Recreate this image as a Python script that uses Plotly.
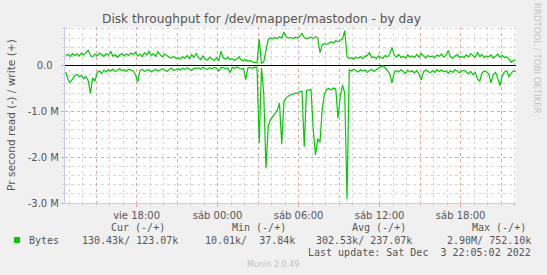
import pandas as pd
import plotly.graph_objects as go

# ---- data (MB/s), sampled every 10 minutes from Fri 2022-12-02 12:45 ----
start_time = "2022-12-02 12:45"
write_m = [
    0.22, 0.24, 0.20, 0.26, 0.22, 0.25, 0.21, 0.27, 0.23, 0.28,
    0.33, 0.22, 0.19, 0.25, 0.21, 0.27, 0.23, 0.20, 0.26, 0.22,
    0.31, 0.20, 0.24, 0.18, 0.23, 0.26, 0.21, 0.25, 0.22, 0.27,
    0.24, 0.29, 0.21, 0.25, 0.19, 0.28, 0.23, 0.31, 0.22, 0.26,
    0.20, 0.30, 0.23, 0.19, 0.25, 0.21, 0.18, 0.16, 0.20, 0.15,
    0.17, 0.14, 0.19, 0.16, 0.22, 0.15, 0.24, 0.18, 0.26, 0.17,
    0.13, 0.21, 0.14, 0.12, 0.18, 0.15, 0.11, 0.17, 0.10, 0.31,
    0.16, 0.14, 0.18, 0.13, 0.15, 0.11, 0.14, 0.19, 0.12, 0.10,
    0.13, 0.09, 0.11, 0.08, 0.07, 0.06, 0.57, 0.05, 0.08, 0.35,
    0.57, 0.60, 0.58, 0.61, 0.59, 0.63, 0.60, 0.73, 0.62, 0.60,
    0.61, 0.59, 0.62, 0.60, 0.63, 0.70, 0.61, 0.58, 0.60, 0.62,
    0.59, 0.63, 0.60, 0.28, 0.45, 0.48, 0.46, 0.50, 0.52, 0.49,
    0.54, 0.52, 0.56, 0.58, 0.76, 0.20, 0.15, 0.17, 0.14, 0.18,
    0.16, 0.19, 0.15, 0.20, 0.22, 0.28, 0.17, 0.19, 0.15, 0.21,
    0.18, 0.16, 0.22, 0.19, 0.25, 0.39, 0.22, 0.18, 0.24, 0.17,
    0.20, 0.16, 0.23, 0.19, 0.21, 0.17, 0.24, 0.18, 0.26, 0.20,
    0.16, 0.22, 0.19, 0.21, 0.17, 0.23, 0.20, 0.25, 0.18, 0.22,
    0.33, 0.19, 0.16, 0.21, 0.24, 0.18, 0.20, 0.17, 0.23, 0.19,
    0.26, 0.21, 0.18, 0.29, 0.20, 0.24, 0.17, 0.21, 0.19, 0.23,
    0.16, 0.20, 0.25, 0.18, 0.22, 0.17, 0.19, 0.14, 0.07, 0.11,
    0.12,
]
read_m = [
    0.14, 0.30, 0.37, 0.28, 0.22, 0.19, 0.25, 0.21, 0.29, 0.24,
    0.33, 0.61, 0.27, 0.34, 0.15, 0.12, 0.17, 0.10, 0.14, 0.09,
    0.12, 0.08, 0.13, 0.10, 0.07, 0.11, 0.09, 0.13, 0.08, 0.10,
    0.12, 0.20, 0.36, 0.11, 0.08, 0.13, 0.10, 0.09, 0.14, 0.11,
    0.08, 0.12, 0.09, 0.07, 0.10, 0.13, 0.08, 0.06, 0.11, 0.09,
    0.07, 0.10, 0.06, 0.09, 0.05, 0.08, 0.11, 0.06, 0.07, 0.05,
    0.08, 0.04, 0.06, 0.09, 0.05, 0.07, 0.04, 0.06, 0.12, 0.05,
    0.04, 0.07, 0.05, 0.16, 0.04, 0.06, 0.03, 0.05, 0.08, 0.06,
    0.31, 0.05, 0.04, 0.06, 0.03, 0.04, 1.69, 0.05, 0.60, 2.24,
    1.33, 1.18, 1.10, 1.05, 0.98, 0.82, 1.72, 0.78, 0.70, 0.66,
    0.64, 0.62, 0.60, 0.61, 0.57, 0.56, 1.77, 0.55, 0.53, 0.52,
    1.40, 1.95, 1.60, 1.68, 0.95, 0.62, 0.52, 0.50, 0.53, 0.49,
    0.51, 1.15, 0.68, 0.43, 0.60, 2.92, 0.09, 0.12, 0.08, 0.11,
    0.14, 0.09, 0.12, 0.10, 0.15, 0.11, 0.08, 0.13, 0.10, 0.06,
    0.02, 0.01, 0.05, 0.12, 0.18, 0.38, 0.15, 0.11, 0.14, 0.09,
    0.13, 0.17, 0.10, 0.14, 0.12, 0.16, 0.11, 0.19, 0.31, 0.14,
    0.10, 0.13, 0.16, 0.11, 0.15, 0.09, 0.13, 0.10, 0.14, 0.12,
    0.17, 0.11, 0.15, 0.09, 0.13, 0.16, 0.12, 0.10, 0.14, 0.18,
    0.13, 0.20, 0.15, 0.30, 0.34, 0.16, 0.12, 0.14, 0.18, 0.38,
    0.20, 0.15, 0.28, 0.44, 0.22, 0.14, 0.11, 0.25, 0.16, 0.12,
    0.13,
]

x_labels_vals = ["2022-12-02 18:00", "2022-12-03 00:00", "2022-12-03 06:00",
                 "2022-12-03 12:00", "2022-12-03 18:00"]
x_labels_text = ["vie 18:00", "sáb 00:00", "sáb 06:00", "sáb 12:00", "sáb 18:00"]
y_tick_vals = [0, -1e6, -2e6, -3e6]
y_tick_text = ["0.0\u00a0\u00a0", "-1.0 M", "-2.0 M", "-3.0 M"]

legend_name = "Bytes"
stat_headers = ["Cur (-/+)", "Min (-/+)", "Avg (-/+)", "Max (-/+)"]
stat_values = ["130.43k/ 123.07k", "10.01k/  37.84k", "302.53k/ 237.07k", "2.90M/ 752.10k"]
last_update = "Last update: Sat Dec  3 22:05:02 2022"

# ---- layout geometry ----
W, H = 547, 275
L, R, T, B = 65, 31, 27, 72
PW, PH = W - L - R, H - T - B
def px(x):
    return (x - L) / PW
def py(y):
    return 1 - (y - T) / PH

times = pd.date_range(start_time, periods=len(write_m), freq="10min")
green = "#00CC00"
txt = "#555555"

fig = go.Figure()
fig.add_trace(go.Scatter(x=times, y=[-v * 1e6 for v in read_m], mode="lines",
                         line=dict(color=green, width=1.2), showlegend=False, hoverinfo="skip"))
fig.add_trace(go.Scatter(x=times, y=[v * 1e6 for v in write_m], mode="lines",
                         line=dict(color=green, width=1.2), showlegend=False, hoverinfo="skip"))

major_x = pd.date_range("2022-12-02 15:00", "2022-12-03 21:00", freq="3h")
minor_x = pd.date_range("2022-12-02 13:00", "2022-12-03 22:00", freq="1h")
major_text = []
for t in major_x:
    s = t.strftime("%Y-%m-%d %H:%M")
    major_text.append(x_labels_text[x_labels_vals.index(s)] if s in x_labels_vals else "")

minor_y = [v * 1e5 for v in range(-28, 9, 2) if v % 10 != 0]

fig.update_layout(
    width=W, height=H,
    margin=dict(l=L, r=R, t=T, b=B),
    paper_bgcolor="#F0F0F0", plot_bgcolor="white",
    font=dict(family="DejaVu Sans", size=10, color=txt),
    xaxis=dict(
        range=["2022-12-02 12:42", "2022-12-03 22:06"],
        tickmode="array", tickvals=list(major_x), ticktext=major_text,
        showgrid=True, gridcolor="#F2A0A0", griddash="dot", gridwidth=1,
        ticks="outside", ticklen=3, tickcolor="#F2A0A0",
        showline=True, linecolor="#C8C8F0", linewidth=1,
        zeroline=False,
        tickfont=dict(family="DejaVu Sans", size=10, color=txt),
        minor=dict(tickmode="array", tickvals=list(minor_x), showgrid=True,
                   gridcolor="#D8D8D8", griddash="dot", gridwidth=1,
                   ticks="outside", ticklen=2, tickcolor="#D0D0D0"),
    ),
    yaxis=dict(
        range=[-3.0e6, 0.84e6],
        tickmode="array", tickvals=y_tick_vals, ticktext=y_tick_text,
        showgrid=True, gridcolor="#F2A0A0", griddash="dot", gridwidth=1,
        ticks="outside", ticklen=3, tickcolor="#F2A0A0",
        showline=True, linecolor="#C8C8F0", linewidth=1,
        zeroline=True, zerolinecolor="black", zerolinewidth=1.3,
        tickfont=dict(family="DejaVu Sans", size=10, color=txt),
        minor=dict(tickmode="array", tickvals=minor_y, showgrid=True,
                   gridcolor="#D8D8D8", griddash="dot", gridwidth=1,
                   ticks="outside", ticklen=2, tickcolor="#D0D0D0"),
    ),
)

ann = []
ann.append(dict(text="Disk throughput for /dev/mapper/mastodon - by day",
                x=px(261), y=py(19.5), xanchor="center", yanchor="middle",
                font=dict(family="DejaVu Sans", size=12.2, color=txt)))
ann.append(dict(text="Pr second read (-) / write (+)", textangle=-90,
                x=px(11), y=py(115), xanchor="center", yanchor="middle",
                font=dict(family="DejaVu Sans", size=10.6, color=txt)))
ann.append(dict(text="RRDTOOL / TOBI OETIKER", textangle=90,
                x=px(537), y=py(58), xanchor="center", yanchor="middle",
                font=dict(family="DejaVu Sans", size=8.6, color="#C4C4C4")))
mono = dict(family="DejaVu Sans Mono", size=10, color=txt)
header_cx = [138, 258.5, 378.5, 499]
value_right = [179.5, 297, 414, 533]
for hx, htxt in zip(header_cx, stat_headers):
    ann.append(dict(text=htxt.replace(" ", "\u00a0"), x=px(hx), y=py(227.5),
                    xanchor="center", yanchor="middle", font=mono))
for vx, vtxt in zip(value_right, stat_values):
    ann.append(dict(text=vtxt.replace(" ", "\u00a0"), x=px(vx), y=py(240),
                    xanchor="right", yanchor="middle", font=mono))
ann.append(dict(text=legend_name, x=px(26.5), y=py(240), xanchor="left",
                yanchor="middle", font=mono))
ann.append(dict(text=last_update.replace(" ", "\u00a0"), x=px(533), y=py(252),
                xanchor="right", yanchor="middle", font=mono))
ann.append(dict(text="Munin 2.0.49", x=px(273), y=py(264.5), xanchor="center",
                yanchor="middle", font=dict(family="DejaVu Sans", size=8, color="#C0C0C0")))
for a in ann:
    a.update(xref="paper", yref="paper", showarrow=False)
fig.update_layout(annotations=ann)

fig.add_shape(type="rect", xref="paper", yref="paper",
              x0=px(14), x1=px(20), y0=py(243), y1=py(237),
              fillcolor=green, line=dict(width=0))

fig.write_html("out.html")
